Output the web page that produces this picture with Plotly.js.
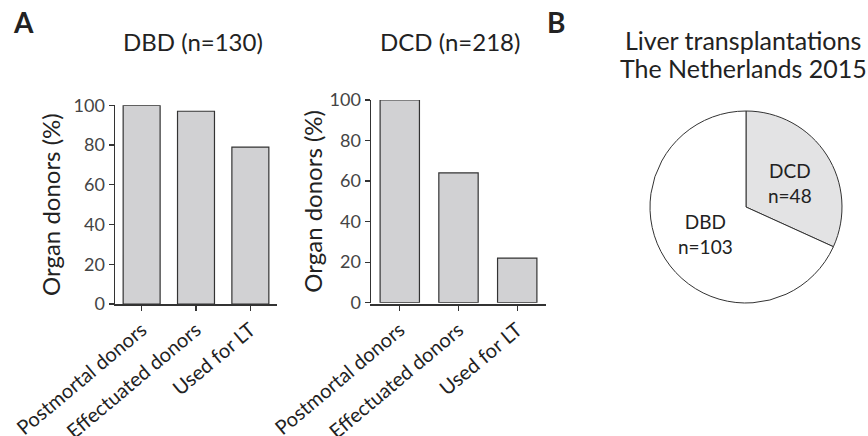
<!DOCTYPE html>
<html><head><meta charset="utf-8">
<script src="https://cdn.plot.ly/plotly-3.0.1.min.js"></script>
<style>html,body{margin:0;padding:0;background:#fff}#chart{width:868px;height:436px}</style>
</head><body><div id="chart"></div>
<script>
const categories = ["Postmortal donors", "Effectuated donors", "Used for LT"];
const dbdValues = [100, 97, 79];
const dcdValues = [100, 64, 22];
const yTicks = [0, 20, 40, 60, 80, 100];
const pieLabels = ["DCD", "DBD"];
const pieValues = [48, 103];
const titles = ["DBD (n=130)", "DCD (n=218)"];
const pieTitleLines = ["Liver transplantations", "The Netherlands 2015"];
const panelLetters = ["A", "B"];

const W = 868, H = 436;
const px = v => v / W, py = v => 1 - v / H;
const FONT = "Lato, 'Liberation Sans', sans-serif";

const barStyle = {color: "#d1d1d3", line: {color: "#333", width: 1.2}};
const traces = [
  {type: "bar", x: categories, y: dbdValues, xaxis: "x", yaxis: "y", marker: barStyle, width: 0.68, hoverinfo: "none"},
  {type: "bar", x: categories, y: dcdValues, xaxis: "x2", yaxis: "y2", marker: barStyle, width: 0.67, hoverinfo: "none"},
  {type: "pie", labels: pieLabels, values: pieValues, sort: false, direction: "clockwise", rotation: 0,
   marker: {colors: ["#e3e3e4", "#ffffff"], line: {color: "#333", width: 1}},
   textinfo: "none",
   domain: {x: [px(650), px(842)], y: [py(303), py(111)]}, showlegend: false, hoverinfo: "none"}
];

function xax(domain) {
  return {domain: domain, range: [-0.49, 2.49], showline: true, linecolor: "#333", linewidth: 1.5,
    ticks: "outside", ticklen: 5, tickcolor: "#333", tickwidth: 1.2, tickangle: -40,
    tickfont: {family: FONT, size: 20, color: "#222"}, showgrid: false, zeroline: false, fixedrange: true};
}
function yax(domain, anchor, standoff) {
  return {domain: domain, range: [0, 100], anchor: anchor, showline: true, linecolor: "#333", linewidth: 1.5,
    ticks: "outside", ticklen: 5, tickcolor: "#333", tickwidth: 1.2, tickvals: yTicks,
    tickfont: {family: FONT, size: 18, color: "#444"}, showgrid: false, zeroline: false,
    title: {text: "Organ donors (%)", font: {family: FONT, size: 24, color: "#222"}, standoff: standoff}, fixedrange: true};
}

function ann(text, x, y, size, extra) {
  return Object.assign({text: text, x: px(x), y: py(y), xref: "paper", yref: "paper", xanchor: "center", yanchor: "middle",
    showarrow: false, font: {family: FONT, size: size, color: "#222"}}, extra || {});
}

// pie slice labels built from the data arrays
const pieAnnPos = [[790, 183], [705, 234]];
const pieAnns = pieLabels.map((l, i) => ann(l + "<br>n=" + pieValues[i], pieAnnPos[i][0], pieAnnPos[i][1], 19));

const layout = {
  width: W, height: H, margin: {l: 0, r: 0, t: 0, b: 0}, showlegend: false,
  paper_bgcolor: "#fff", plot_bgcolor: "#fff", bargap: 0.3,
  xaxis: xax([px(115), px(277)]), yaxis: yax([py(304), py(105.3)], "x", 6),
  xaxis2: xax([px(371), px(546)]), yaxis2: yax([py(302.7), py(100)], "x2", 0),
  annotations: [
    ann(titles[0], 193, 41, 24),
    ann(titles[1], 450, 41, 24),
    ann(pieTitleLines[0], 743, 40, 25),
    ann(pieTitleLines[1], 743, 68, 25),
    ann("<b>" + panelLetters[0] + "</b>", 23, 22, 28),
    ann("<b>" + panelLetters[1] + "</b>", 556, 22, 28)
  ].concat(pieAnns)
};
Plotly.newPlot("chart", traces, layout, {staticPlot: true});
</script></body></html>
